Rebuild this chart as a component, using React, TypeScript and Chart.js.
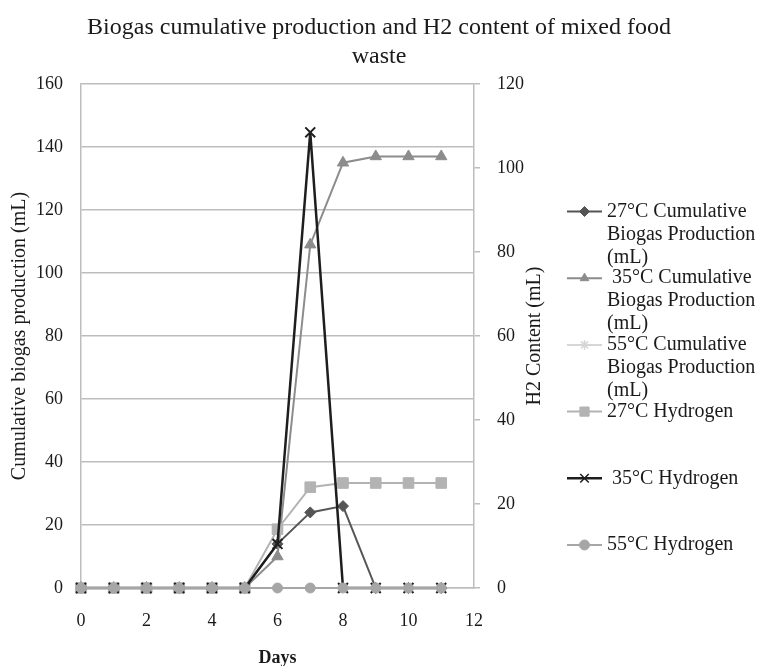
import React, { useEffect, useRef } from 'react';
import { Chart, registerables } from 'chart.js';
import { drawPoint } from 'chart.js/helpers';

Chart.register(...registerables);

const FONT = "'Liberation Serif', 'Times New Roman', serif";

const days = [0, 1, 2, 3, 4, 5, 6, 7, 8, 9, 10, 11];
const biogas27 = [0, 0, 0, 0, 0, 0, 14, 24, 26, 0, 0, 0];
const biogas35 = [0, 0, 0, 0, 0, 0, 10, 109, 135, 137, 137, 137];
const biogas55 = [0, 0, 0, 0, 0, 0, 0, 0, 0, 0, 0, 0];
const hydrogen27 = [0, 0, 0, 0, 0, 0, 14, 24, 25, 25, 25, 25];
const hydrogen35 = [0, 0, 0, 0, 0, 0, 10.5, 108.5, 0, 0, 0, 0];
const hydrogen55 = [0, 0, 0, 0, 0, 0, 0, 0, 0, 0, 0, 0];

const legendLines = [
  ['27°C Cumulative', 'Biogas Production', '(mL)'],
  [' 35°C Cumulative', 'Biogas Production', '(mL)'],
  ['55°C Cumulative', 'Biogas Production', '(mL)'],
  ['27°C Hydrogen'],
  [' 35°C Hydrogen'],
  ['55°C Hydrogen'],
];

const titleLines = ['Biogas cumulative production and H2 content of mixed food', 'waste'];
const xTitle = 'Days';
const yLeftTitle = 'Cumulative biogas production (mL)';
const yRightTitle = 'H2 Content (mL)';

const seriesValues = [biogas27, biogas35, biogas55, hydrogen27, hydrogen35, hydrogen55];
const seriesAxis = ['y', 'y', 'y', 'y2', 'y2', 'y2'];
const seriesStyle = [
  { color: '#555555', pointStyle: 'rectRot', radius: 5.5, legendRadius: 5, lineWidth: 2 },
  { color: '#8c8c8c', pointStyle: 'triangle', radius: 6.5, legendRadius: 5, lineWidth: 2 },
  { color: '#d6d6d6', pointStyle: 'star', radius: 4, legendRadius: 5, lineWidth: 2 },
  { color: '#b3b3b3', pointStyle: 'rect', radius: 7.5, legendRadius: 6.5, lineWidth: 2 },
  { color: '#1e1e1e', pointStyle: 'crossRot', radius: 7, legendRadius: 6, lineWidth: 2.5 },
  { color: '#a6a6a6', pointStyle: 'circle', radius: 5, legendRadius: 5, lineWidth: 2 },
];

const GRID = '#bdbdbd';
const TEXT = '#1a1a1a';

const customPlugin = {
  id: 'customDecor',
  afterDraw(chart: any) {
    const ctx = chart.ctx as CanvasRenderingContext2D;
    const area = chart.chartArea;
    ctx.save();
    ctx.fillStyle = TEXT;
    ctx.font = `20px ${FONT}`;
    ctx.textAlign = 'center';
    ctx.textBaseline = 'middle';
    ctx.translate(535, (area.top + area.bottom) / 2);
    ctx.rotate(-Math.PI / 2);
    ctx.fillText(yRightTitle, 0, 0);
    ctx.restore();

    ctx.save();
    const x0 = 567;
    const x1 = 602;
    const tx = 607;
    const top = 211.5;
    const step = 66.7;
    const lh = 23;
    legendLines.forEach((lines, i) => {
      const st = seriesStyle[i];
      const y = top + i * step;
      ctx.strokeStyle = st.color;
      ctx.lineWidth = st.lineWidth;
      ctx.beginPath();
      ctx.moveTo(x0, y);
      ctx.lineTo(x1, y);
      ctx.stroke();
      ctx.fillStyle = st.color;
      ctx.strokeStyle = st.color;
      ctx.lineWidth = st.pointStyle === 'crossRot' || st.pointStyle === 'star' ? 1.5 : 1;
      drawPoint(ctx, { pointStyle: st.pointStyle as any, radius: st.legendRadius, rotation: 0, borderWidth: ctx.lineWidth } as any, (x0 + x1) / 2, y);
      ctx.fillStyle = TEXT;
      ctx.font = `20px ${FONT}`;
      ctx.textAlign = 'left';
      ctx.textBaseline = 'middle';
      lines.forEach((t, j) => ctx.fillText(t, tx, y + j * lh));
    });
    ctx.restore();
  },
};

export default function App() {
  const ref = useRef<HTMLCanvasElement | null>(null);
  useEffect(() => {
    document.body.style.margin = '0';
    document.body.style.overflow = 'hidden';
    const canvas = ref.current!;
    const datasets = seriesValues.map((vals, i) => {
      const st = seriesStyle[i];
      return {
        label: legendLines[i].join(' ').trim(),
        data: vals.map((v, k) => ({ x: days[k], y: v })),
        yAxisID: seriesAxis[i],
        borderColor: st.color,
        backgroundColor: st.color,
        pointBackgroundColor: st.color,
        pointBorderColor: st.color,
        pointStyle: st.pointStyle,
        pointRadius: st.radius,
        pointBorderWidth: st.pointStyle === 'crossRot' || st.pointStyle === 'star' ? 2 : 1,
        borderWidth: st.lineWidth,
        tension: 0,
        fill: false,
        clip: false,
        order: seriesValues.length - i,
      };
    });
    const chart = new Chart(canvas, {
      type: 'line',
      data: { datasets } as any,
      plugins: [customPlugin],
      options: {
        animation: false,
        responsive: false,
        events: [],
        layout: { padding: 0 },
        plugins: {
          legend: { display: false },
          tooltip: { enabled: false },
          title: {
            display: true,
            text: titleLines,
            color: TEXT,
            font: { family: FONT, size: 24, weight: 'normal', lineHeight: '29px' as any },
            padding: { top: 13.5, bottom: 12.5 },
          },
        },
        scales: {
          x: {
            type: 'linear',
            min: 0,
            max: 12,
            grid: { display: false, drawTicks: false },
            border: { display: true, color: GRID, width: 1.5 },
            ticks: { stepSize: 2, color: TEXT, font: { family: FONT, size: 18 }, padding: 22 },
            title: { display: true, text: xTitle, color: TEXT, font: { family: FONT, size: 18, weight: 'bold', lineHeight: 1 }, padding: { top: 0, bottom: -1 } },
            afterFit: (s: any) => { s.height = 78; },
          },
          y: {
            type: 'linear',
            position: 'left',
            min: 0,
            max: 160,
            grid: { color: GRID, lineWidth: 1.5, drawTicks: false },
            border: { display: true, color: GRID, width: 1.5 },
            ticks: { stepSize: 20, color: TEXT, font: { family: FONT, size: 18 }, padding: 18 },
            title: { display: true, text: yLeftTitle, color: TEXT, font: { family: FONT, size: 20, lineHeight: 1.2 }, padding: { top: 8, bottom: 0 } },
            afterFit: (s: any) => { s.width = 81; },
          },
          y2: {
            type: 'linear',
            position: 'right',
            min: 0,
            max: 120,
            grid: { display: true, drawOnChartArea: false, drawTicks: true, tickLength: 6, color: GRID, lineWidth: 1.5 },
            border: { display: true, color: GRID, width: 1.5 },
            ticks: { stepSize: 20, color: TEXT, font: { family: FONT, size: 18 }, padding: 17 },
            afterFit: (s: any) => { s.width = 758 - 474; },
          },
        },
      } as any,
    });
    return () => chart.destroy();
  }, []);
  return <canvas ref={ref} width={758} height={666} style={{ display: 'block' }} />;
}
